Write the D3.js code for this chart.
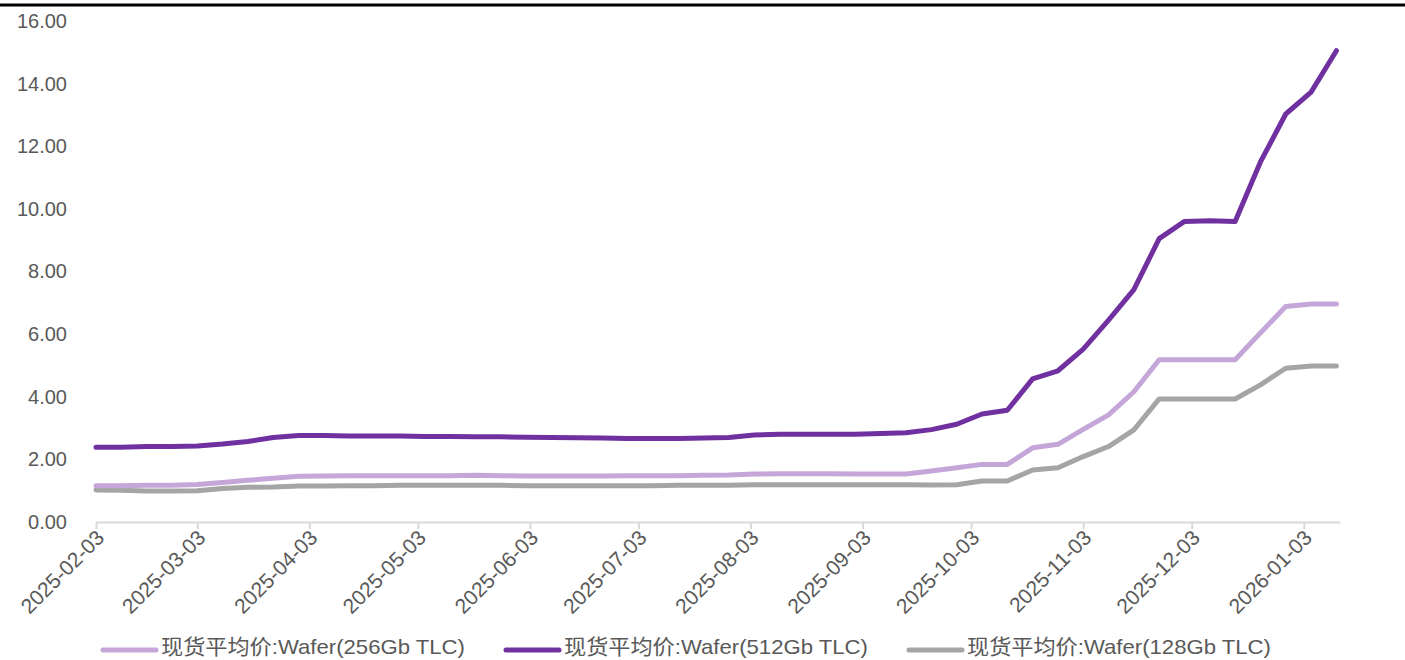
<!DOCTYPE html>
<html>
<head>
<meta charset="utf-8">
<script src="https://cdn.jsdelivr.net/npm/d3@7"></script>
<style>
  body { margin: 0; background: #fff; }
  svg { display: block; }
</style>
</head>
<body>
<svg id="chart" width="1405" height="660"></svg>
<script>
// weekly samples, starting Monday 2025-02-03
const startDate = '2025-02-03';
const weekCount = 50;

const tickLabels = ['2025-02-03', '2025-03-03', '2025-04-03', '2025-05-03', '2025-06-03', '2025-07-03',
  '2025-08-03', '2025-09-03', '2025-10-03', '2025-11-03', '2025-12-03', '2026-01-03'];

const yTicks = [0, 2, 4, 6, 8, 10, 12, 14, 16];

const seriesNames = ['现货平均价:Wafer(256Gb TLC)', '现货平均价:Wafer(512Gb TLC)', '现货平均价:Wafer(128Gb TLC)'];

const wafer256 = [1.16, 1.16, 1.17, 1.17, 1.20, 1.26, 1.33, 1.40, 1.46, 1.47,
  1.48, 1.48, 1.48, 1.48, 1.48, 1.49, 1.48, 1.47, 1.47, 1.47,
  1.47, 1.48, 1.48, 1.48, 1.49, 1.50, 1.53, 1.54, 1.54, 1.54,
  1.53, 1.53, 1.53, 1.63, 1.73, 1.84, 1.84, 2.37, 2.48, 2.96,
  3.42, 4.16, 5.18, 5.18, 5.18, 5.18, 6.04, 6.88, 6.96, 6.96];

const wafer512 = [2.39, 2.39, 2.41, 2.41, 2.43, 2.49, 2.57, 2.70, 2.76, 2.76,
  2.75, 2.75, 2.75, 2.73, 2.73, 2.72, 2.72, 2.71, 2.70, 2.69,
  2.68, 2.67, 2.67, 2.67, 2.68, 2.70, 2.78, 2.80, 2.80, 2.80,
  2.80, 2.83, 2.85, 2.95, 3.12, 3.45, 3.57, 4.57, 4.83, 5.52,
  6.45, 7.42, 9.05, 9.60, 9.62, 9.60, 11.50, 13.03, 13.73, 15.05];

const wafer128 = [1.02, 1.01, 0.99, 0.99, 1.00, 1.07, 1.11, 1.12, 1.15, 1.15,
  1.16, 1.16, 1.17, 1.17, 1.17, 1.17, 1.17, 1.16, 1.16, 1.16,
  1.16, 1.16, 1.16, 1.17, 1.17, 1.17, 1.19, 1.19, 1.19, 1.19,
  1.19, 1.19, 1.19, 1.18, 1.19, 1.31, 1.31, 1.66, 1.73, 2.09,
  2.41, 2.94, 3.93, 3.93, 3.93, 3.93, 4.38, 4.91, 4.98, 4.98];

const colors = ['#c5a6d8', '#7030a0', '#a5a5a5'];

const parse = d3.utcParse('%Y-%m-%d');
const dates = d3.range(weekCount).map(i => d3.utcDay.offset(parse(startDate), i * 7));

const margin = {top: 21, left: 96, right: 65, bottom: 138};
const width = 1405, height = 660;

const svg = d3.select('#chart');
const font = '"Liberation Sans", "Noto Sans CJK SC", sans-serif';

// top frame line
svg.append('line')
  .attr('x1', 0).attr('x2', width)
  .attr('y1', 5).attr('y2', 5)
  .attr('stroke', '#000').attr('stroke-width', 3);

const x = d3.scaleUtc()
  .domain([parse('2025-02-03'), parse('2026-01-13')])
  .range([margin.left, width - margin.right]);

const y = d3.scaleLinear()
  .domain([0, 16])
  .range([height - margin.bottom, margin.top]);

// y axis labels (no line)
const yAxis = svg.append('g')
  .attr('transform', `translate(${margin.left - 29},0)`)
  .call(d3.axisLeft(y).tickValues(yTicks).tickFormat(d3.format('.2f')).tickSize(0).tickPadding(0));
yAxis.select('.domain').remove();
yAxis.selectAll('text')
  .attr('font-family', font)
  .attr('font-size', '20px')
  .attr('fill', '#595959');

// x axis
const xAxis = svg.append('g')
  .attr('transform', `translate(0,${y(0)})`)
  .call(d3.axisBottom(x)
    .tickValues(tickLabels.map(parse))
    .tickFormat(d3.utcFormat('%Y-%m-%d'))
    .tickSizeInner(7).tickSizeOuter(0));
xAxis.select('.domain').attr('stroke', '#d9d9d9').attr('stroke-width', 2);
xAxis.selectAll('.tick line').attr('stroke', '#d9d9d9').attr('stroke-width', 2);
xAxis.selectAll('text')
  .attr('font-family', font)
  .attr('font-size', '21px')
  .attr('fill', '#595959')
  .attr('text-anchor', 'end')
  .attr('dy', null)
  .attr('y', 0)
  .attr('transform', 'translate(9,17) rotate(-45)');

const line = d3.line()
  .x((d, i) => x(dates[i]))
  .y(d => y(d));

const series = [wafer256, wafer512, wafer128];
// draw order: 128 at back, then 256, then 512 on top
[2, 0, 1].forEach(k => {
  svg.append('path')
    .datum(series[k])
    .attr('d', line)
    .attr('fill', 'none')
    .attr('stroke', colors[k])
    .attr('stroke-width', 5)
    .attr('stroke-linejoin', 'round')
    .attr('stroke-linecap', 'round');
});

// legend
const legendX = [103, 506, 909];
const legend = svg.append('g').attr('transform', 'translate(0,650)');
seriesNames.forEach((name, k) => {
  const item = legend.append('g').attr('transform', `translate(${legendX[k]},0)`);
  item.append('line')
    .attr('x1', 0).attr('x2', 53)
    .attr('stroke', colors[k])
    .attr('stroke-width', 5)
    .attr('stroke-linecap', 'round');
  item.append('text')
    .attr('x', 58)
    .attr('y', 4)
    .attr('font-family', font)
    .attr('font-size', '21px')
    .attr('fill', '#595959')
    .attr('textLength', 304)
    .attr('lengthAdjust', 'spacingAndGlyphs')
    .text(name);
});
</script>
</body>
</html>
